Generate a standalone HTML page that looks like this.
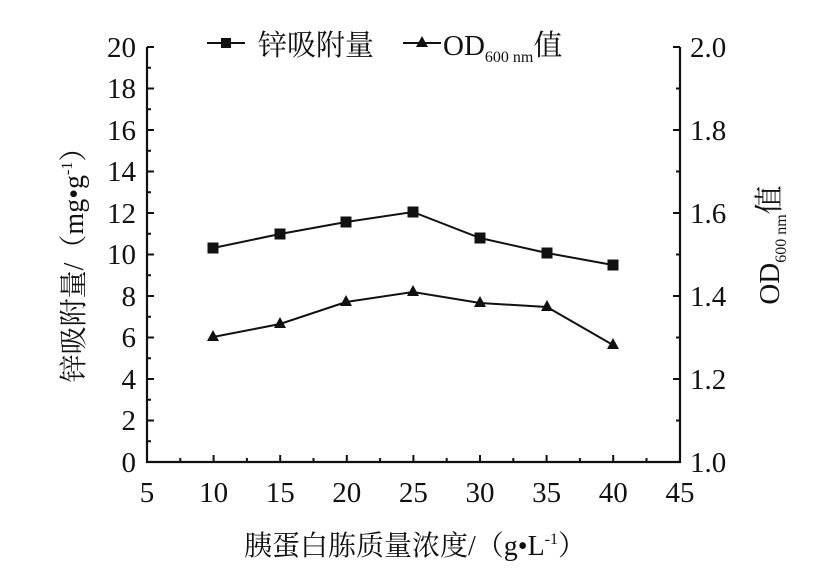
<!DOCTYPE html>
<html><head><meta charset="utf-8"><style>
html,body{margin:0;padding:0;background:#fff;}
text{font-family:"Liberation Serif","Noto Serif CJK SC",serif;fill:#111;}
</style></head><body>
<svg width="820" height="571" viewBox="0 0 820 571" xmlns="http://www.w3.org/2000/svg">
<g stroke="#111" stroke-width="2.2" fill="none">
<polyline points="147,47 147,462 680,462 680,47"/>
</g>
<g stroke="#111" stroke-width="2">
<path d="M147,47h7M147,88.5h7M147,130h7M147,171.5h7M147,213h7M147,254.5h7M147,296h7M147,337.5h7M147,379h7M147,420.5h7"/>
<path d="M147,67.75h4M147,109.25h4M147,150.75h4M147,192.25h4M147,233.75h4M147,275.25h4M147,316.75h4M147,358.25h4M147,399.75h4M147,441.25h4"/>
<path d="M680,47h-7M680,130h-7M680,213h-7M680,296h-7M680,379h-7"/>
<path d="M680,88.5h-4M680,171.5h-4M680,254.5h-4M680,337.5h-4M680,420.5h-4"/>
<path d="M213.6,462v-7M280.2,462v-7M346.8,462v-7M413.4,462v-7M480,462v-7M546.6,462v-7M613.2,462v-7"/>
<path d="M180.3,462v-4M246.9,462v-4M313.5,462v-4M380.1,462v-4M446.7,462v-4M513.3,462v-4M579.9,462v-4M646.5,462v-4"/>
</g>
<g font-size="29" text-anchor="end">
<text x="136" y="57">20</text><text x="136" y="98">18</text><text x="136" y="140">16</text><text x="136" y="181">14</text><text x="136" y="223">12</text><text x="136" y="264">10</text><text x="136" y="306">8</text><text x="136" y="347">6</text><text x="136" y="389">4</text><text x="136" y="430">2</text><text x="136" y="472">0</text>
</g>
<g font-size="29" text-anchor="start">
<text x="690" y="57">2.0</text><text x="690" y="140">1.8</text><text x="690" y="223">1.6</text><text x="690" y="306">1.4</text><text x="690" y="389">1.2</text><text x="690" y="472">1.0</text>
</g>
<g font-size="29" text-anchor="middle">
<text x="147" y="502">5</text><text x="213.6" y="502">10</text><text x="280.2" y="502">15</text><text x="346.8" y="502">20</text><text x="413.4" y="502">25</text><text x="480" y="502">30</text><text x="546.6" y="502">35</text><text x="613.2" y="502">40</text><text x="680" y="502">45</text>
</g>
<text x="415" y="555" font-size="28" text-anchor="middle">胰蛋白胨质量浓度/（g•L<tspan font-size="16" dy="-11">-1</tspan><tspan dy="11">）</tspan></text>
<text transform="translate(83,258) rotate(-90)" font-size="28" text-anchor="middle">锌吸附量/（mg•g<tspan font-size="16" dy="-11">-1</tspan><tspan dy="11">）</tspan></text>
<text transform="translate(779,245) rotate(-90)" font-size="29" text-anchor="middle">OD<tspan font-size="16" dy="7">600 nm</tspan><tspan dy="-7">值</tspan></text>
<g stroke="#111" stroke-width="2" fill="none">
<polyline points="213,248 280,234 346,222 413,212 480,238 547,253 613,265"/>
<polyline points="213,337 280,324 346,302 413,292 480,303 547,307 613,345"/>
</g>
<g fill="#111">
<rect x="207.5" y="242.5" width="11" height="11"/><rect x="274.5" y="228.5" width="11" height="11"/><rect x="340.5" y="216.5" width="11" height="11"/><rect x="407.5" y="206.5" width="11" height="11"/><rect x="474.5" y="232.5" width="11" height="11"/><rect x="541.5" y="247.5" width="11" height="11"/><rect x="607.5" y="259.5" width="11" height="11"/>
<path d="M213,330l6,11h-12zM280,317l6,11h-12zM346,295l6,11h-12zM413,285l6,11h-12zM480,296l6,11h-12zM547,300l6,11h-12zM613,338l6,11h-12z"/>
</g>
<g stroke="#111" stroke-width="2"><path d="M207,43h38M403,43h38"/></g>
<rect x="221" y="38" width="10" height="10" fill="#111"/>
<path d="M422,36l6,11h-12z" fill="#111"/>
<text x="258" y="55" font-size="29">锌吸附量</text>
<text x="443" y="55" font-size="29">OD<tspan font-size="16" dy="7">600 nm</tspan><tspan dy="-7">值</tspan></text>
</svg>
</body></html>
